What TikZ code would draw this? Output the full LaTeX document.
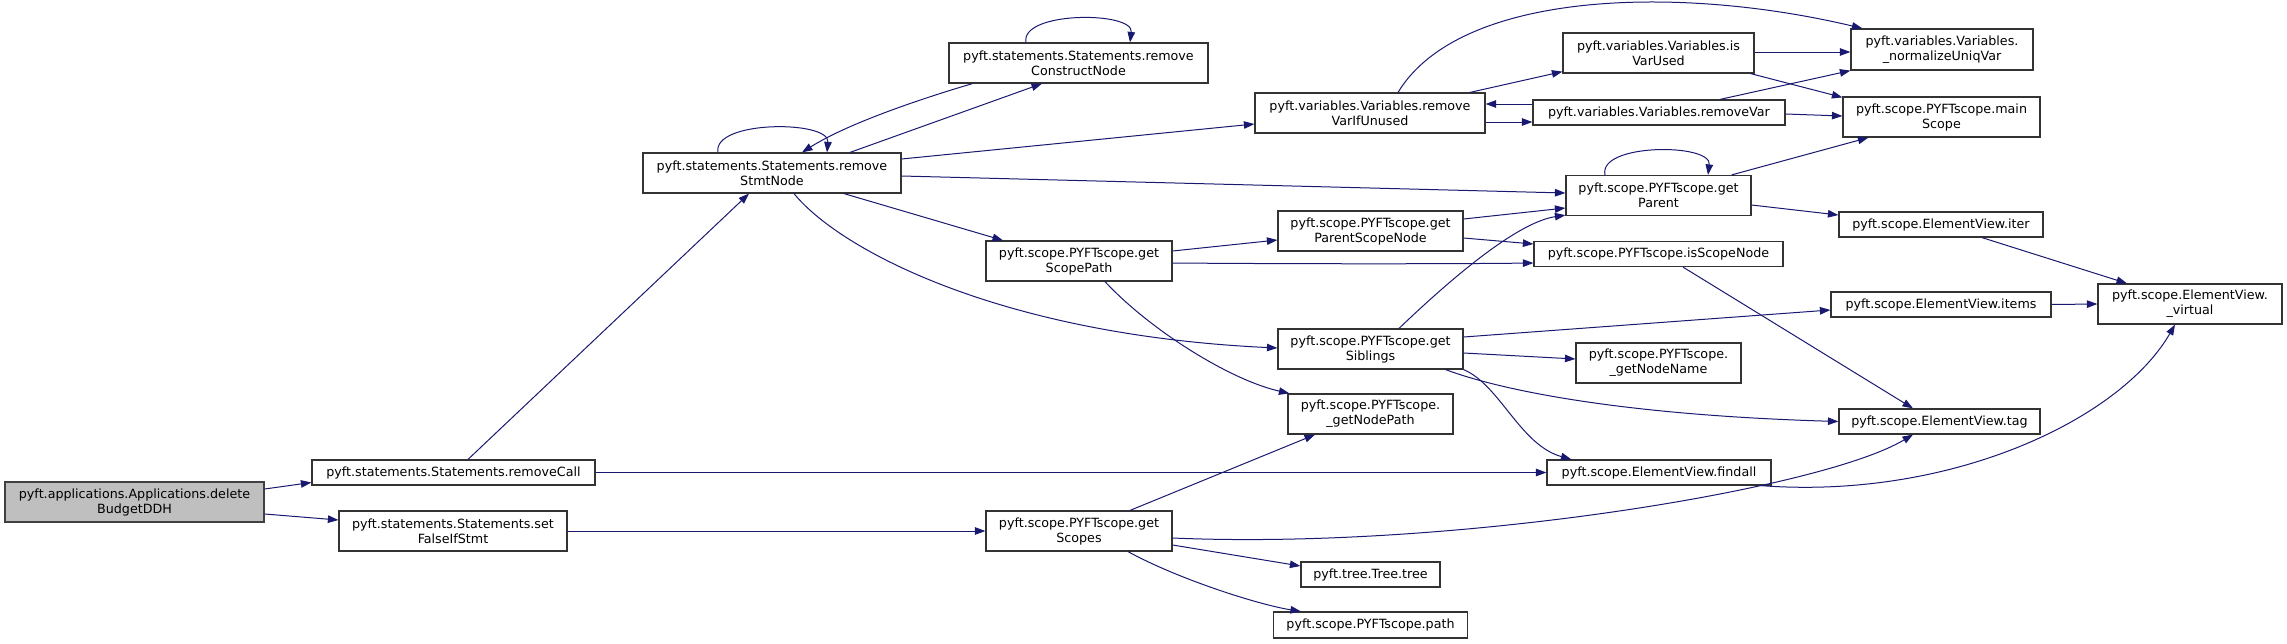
\documentclass[tikz,border=0pt]{standalone}
\usepackage{fontspec}
\setmainfont{DejaVu Sans}
\usetikzlibrary{arrows.meta,calc}
\definecolor{edgec}{HTML}{191970}
\definecolor{rootfill}{HTML}{BFBFBF}
\definecolor{rootdraw}{HTML}{404040}
\definecolor{boxdraw}{HTML}{333333}
\tikzset{
  fn/.style={draw=boxdraw, fill=white, line width=1.2pt, inner sep=0pt, align=center,
    font=\fontsize{12.7pt}{15pt}\selectfont},
  rootfn/.style={fn, draw=rootdraw, fill=rootfill},
  call/.style={draw=edgec, line width=1.0pt, -{Triangle[length=10.5pt,width=7.5pt]}},
}
\begin{document}
\begin{tikzpicture}[x=1pt,y=-1pt]
\useasboundingbox (0,0) rectangle (2287,643);
% nodes
\node[rootfn, minimum width=259, minimum height=40] (dbd) at (134.5,502) {pyft.applications.Applications.delete\\BudgetDDH};
\node[fn, minimum width=283, minimum height=25] (rc) at (453.5,472.5) {pyft.statements.Statements.removeCall};
\node[fn, minimum width=228, minimum height=40] (sf) at (453,531) {pyft.statements.Statements.set\\FalseIfStmt};
\node[fn, minimum width=258, minimum height=40] (rsn) at (772,173) {pyft.statements.Statements.remove\\StmtNode};
\node[fn, minimum width=259, minimum height=40] (rcn) at (1078.5,63) {pyft.statements.Statements.remove\\ConstructNode};
\node[fn, minimum width=230, minimum height=40] (rviu) at (1370,113) {pyft.variables.Variables.remove\\VarIfUnused};
\node[fn, minimum width=191, minimum height=40] (ivu) at (1658.5,53) {pyft.variables.Variables.is\\VarUsed};
\node[fn, minimum width=252, minimum height=25] (rv) at (1659,112.5) {pyft.variables.Variables.removeVar};
\node[fn, minimum width=182, minimum height=41] (nuv) at (1942,49.5) {pyft.variables.Variables.\\\_normalizeUniqVar};
\node[fn, minimum width=197, minimum height=40] (ms) at (1941.5,117) {pyft.scope.PYFTscope.main\\Scope};
\node[fn, minimum width=185, minimum height=40] (gp) at (1658.5,195.5) {pyft.scope.PYFTscope.get\\Parent};
\node[fn, minimum width=204, minimum height=25] (iter) at (1941,224.5) {pyft.scope.ElementView.iter};
\node[fn, minimum width=249, minimum height=25] (isn) at (1658.5,254) {pyft.scope.PYFTscope.isScopeNode};
\node[fn, minimum width=220, minimum height=25] (items) at (1941,304.5) {pyft.scope.ElementView.items};
\node[fn, minimum width=184, minimum height=40] (virt) at (2190,304) {pyft.scope.ElementView.\\\_virtual};
\node[fn, minimum width=165, minimum height=40] (gnn) at (1658.5,363) {pyft.scope.PYFTscope.\\\_getNodeName};
\node[fn, minimum width=186, minimum height=40] (gsp) at (1079,261) {pyft.scope.PYFTscope.get\\ScopePath};
\node[fn, minimum width=185, minimum height=40] (gpsn) at (1370.5,231) {pyft.scope.PYFTscope.get\\ParentScopeNode};
\node[fn, minimum width=185, minimum height=40] (gsib) at (1370.5,349) {pyft.scope.PYFTscope.get\\Siblings};
\node[fn, minimum width=165, minimum height=40] (gnp) at (1370.5,414) {pyft.scope.PYFTscope.\\\_getNodePath};
\node[fn, minimum width=186, minimum height=40] (gsc) at (1079,531) {pyft.scope.PYFTscope.get\\Scopes};
\node[fn, minimum width=139, minimum height=25] (tree) at (1370.5,574.5) {pyft.tree.Tree.tree};
\node[fn, minimum width=194, minimum height=26] (path) at (1370.5,625) {pyft.scope.PYFTscope.path};
\node[fn, minimum width=201, minimum height=25] (tag) at (1939.5,421.5) {pyft.scope.ElementView.tag};
\node[fn, minimum width=224, minimum height=25] (fa) at (1659,472.5) {pyft.scope.ElementView.findall};
% edges
\draw[call] ($(dbd.east)+(0,-13)$) -- ($(rc.west)+(0,10)$);
\draw[call] ($(dbd.east)+(0,12)$) -- ($(sf.west)+(0,-11)$);
\draw[call] ($(rc.north)+(14.5,0)$) -- ($(rsn.south)+(-23,0)$);
\draw[call] (rc.east) -- (fa.west);
\draw[call] (sf.east) -- (gsc.west);
\draw[call] ($(rsn.north)+(-54,0)$) .. controls (712,120) and (830,120) .. ($(rsn.north)+(55,0)$);
\draw[call] ($(rsn.north)+(78,0)$) -- ($(rcn.south)+(-36.5,0)$);
\draw[call] ($(rcn.south)+(-106,0)$) .. controls (930,96) and (850,122) .. ($(rsn.north)+(30,0)$);
\draw[call] ($(rcn.north)+(-52.5,0)$) .. controls (1020,11) and (1134,11) .. ($(rcn.north)+(51.5,0)$);
\draw[call] ($(rsn.east)+(0,-14)$) -- ($(rviu.west)+(0,11)$);
\draw[call] ($(rsn.east)+(0,3)$) -- ($(gp.west)+(0,-2.5)$);
\draw[call] ($(rsn.south)+(72,0)$) -- ($(gsp.north)+(-76,0)$);
\draw[call] ($(rsn.south)+(22,0)$) .. controls (840,250) and (1000,335) .. ($(gsib.west)+(0,-1)$);
\draw[call] ($(rviu.north)+(100,0)$) -- ($(ivu.south west)+(0,-2)$);
\draw[call] ($(rviu.east)+(0,9)$) -- ($(rv.west)+(0,9.5)$);
\draw[call] ($(rv.west)+(0,-8.5)$) -- ($(rviu.east)+(0,-9)$);
\draw[call] ($(rviu.north)+(28,0)$) .. controls (1460,-10) and (1680,-15) .. ($(nuv.north west)+(12,0)$);
\draw[call] ($(ivu.east)+(0,-1)$) -- ($(nuv.west)+(0,2.5)$);
\draw[call] ($(ivu.south east)+(-4,0)$) -- ($(ms.north west)+(0,1)$);
\draw[call] ($(rv.north)+(61,0)$) -- ($(nuv.south west)+(0,0)$);
\draw[call] ($(rv.east)+(0,1.5)$) -- ($(ms.west)+(0,-1)$);
\draw[call] ($(gp.north east)+(-20,0)$) -- ($(ms.south west)+(26,0)$);
\draw[call] ($(gp.north)+(-53.5,0)$) .. controls (1598,143) and (1712,143) .. ($(gp.north)+(49.5,0)$);
\draw[call] ($(gp.east)+(0,9.5)$) -- ($(iter.west)+(0,-9.5)$);
\draw[call] ($(iter.south)+(41,0)$) -- ($(virt.north)+(-63,0)$);
\draw[call] (items.east) -- (virt.west);
\draw[call] ($(isn.south)+(24.5,0)$) -- ($(tag.north)+(-26.5,0)$);
\draw[call] ($(fa.south east)+(-11,0)$) .. controls (1950,500) and (2120,420) .. ($(virt.south)+(-15,0)$);
\draw[call] ($(gsp.east)+(0,-10)$) -- ($(gpsn.west)+(0,9)$);
\draw[call] ($(gsp.east)+(0,2)$) .. controls (1300,264) and (1450,264) .. ($(isn.west)+(0,9)$);
\draw[call] ($(gsp.south)+(26,0)$) .. controls (1150,330) and (1230,380) .. ($(gnp.north west)+(2,0)$);
\draw[call] ($(gpsn.east)+(0,-12)$) -- ($(gp.west)+(0,12.5)$);
\draw[call] ($(gpsn.east)+(0,7)$) -- ($(isn.west)+(0,-10)$);
\draw[call] ($(gsib.north)+(28.5,0)$) .. controls (1460,270) and (1520,222) .. ($(gp.south west)+(0,-1)$);
\draw[call] ($(gsib.east)+(0,-12)$) -- ($(items.west)+(0,5.5)$);
\draw[call] ($(gsib.east)+(0,4)$) -- ($(gnn.west)+(0,-4)$);
\draw[call] ($(gsib.south east)+(-18,0)$) .. controls (1500,390) and (1620,415) .. (tag.west);
\draw[call] (gsib.south east) .. controls (1500,385) and (1520,445) .. ($(fa.north west)+(25,0)$);
\draw[call] ($(gsc.north)+(51,0)$) -- ($(gnp.south)+(-55.5,0)$);
\draw[call] ($(gsc.east)+(0,7)$) .. controls (1450,550) and (1820,490) .. ($(tag.south)+(-26.5,0)$);
\draw[call] ($(gsc.east)+(0,14)$) -- ($(tree.west)+(0,-8.5)$);
\draw[call] ($(gsc.south)+(49,0)$) .. controls (1180,580) and (1260,605) .. ($(path.north west)+(28,0)$);
\end{tikzpicture}
\end{document}
